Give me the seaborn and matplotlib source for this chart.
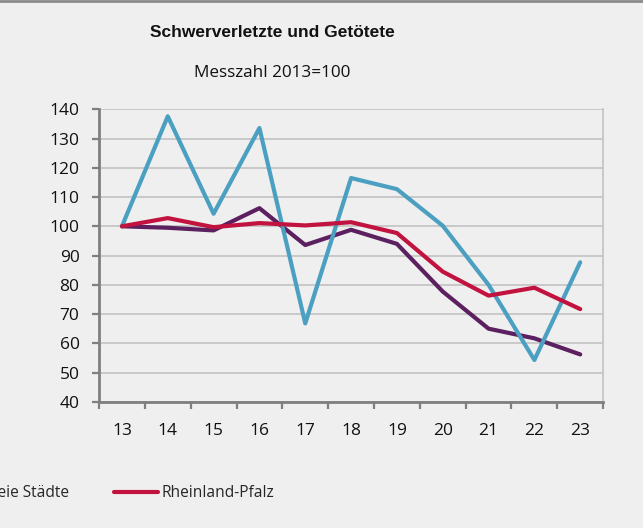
import pandas as pd
import seaborn as sns
import matplotlib.pyplot as plt
from matplotlib.lines import Line2D

# Data (Messzahl 2013=100)
years = ["13", "14", "15", "16", "17", "18", "19", "20", "21", "22", "23"]
kreisfreie_staedte = [100, 137.6, 104.3, 133.6, 66.8, 116.5, 112.7, 100.2, 80, 54.3, 87.7]
landkreise = [100, 99.5, 98.6, 106.2, 93.6, 98.8, 94, 77.7, 65, 61.7, 56.2]
rheinland_pfalz = [100, 102.8, 99.7, 101.1, 100.3, 101.4, 97.7, 84.5, 76.3, 79, 71.7]

series_names = ["Landkreise", "Kreisfreie Städte", "Rheinland-Pfalz"]
series_values = [landkreise, kreisfreie_staedte, rheinland_pfalz]
colors = ["#5C1F5F", "#4BA0C2", "#C2123F"]

rows = []
for name, vals in zip(series_names, series_values):
    for i, v in enumerate(vals):
        rows.append({"pos": i, "year": years[i], "Gebiet": name, "wert": v})
df = pd.DataFrame(rows)

bg = "#EEEFEE"
sns.set_theme(style="white")
plt.rcParams["font.family"] = ["Open Sans", "DejaVu Sans"]

fig = plt.figure(figsize=(6.43, 5.28), dpi=100, facecolor=bg)
ax = fig.add_axes([0.154, 0.239, 0.784, 0.554], facecolor=bg)

sns.lineplot(data=df, x="pos", y="wert", hue="Gebiet", palette=colors,
             hue_order=series_names, linewidth=3.0, ax=ax, legend=False)

ax.set_xlim(-0.5, len(years) - 0.5)
ax.set_ylim(40, 140)
ax.set_yticks(range(40, 141, 10))
ax.set_xticks([i - 0.5 for i in range(len(years) + 1)])
ax.set_xticklabels([])
ax.set_xticks(range(len(years)), minor=True)
ax.set_xticklabels(years, minor=True)
ax.set_xlabel("")
ax.set_ylabel("")

ax.grid(axis="y", color="#C6C6C6", linewidth=1.3)
ax.set_axisbelow(True)
for side in ["left", "bottom"]:
    ax.spines[side].set_color("#7F7F7F")
    ax.spines[side].set_linewidth(2)
ax.spines["top"].set_visible(False)
ax.spines["right"].set_color("#C6C6C6")
ax.spines["right"].set_linewidth(1.3)

ax.tick_params(axis="x", which="major", length=5, width=1.6, color="#7F7F7F", direction="out", bottom=True)
ax.tick_params(axis="x", which="minor", length=0, pad=15, labelsize=12.5, bottom=True)
ax.tick_params(axis="y", length=5, width=1.6, color="#7F7F7F", direction="out", pad=9, labelsize=12.5, left=True)
for lab in ax.get_yticklabels() + ax.get_xticklabels(minor=True):
    lab.set_color("#111111")

fig.text(0.423, 0.939, "Schwerverletzte und Getötete", ha="center", va="center",
         fontsize=12.5, fontweight="bold", family="Liberation Sans", color="#111111")
fig.text(0.423, 0.861, "Messzahl 2013=100", ha="center", va="center",
         fontsize=12.3, color="#111111")

# legend runs off the left edge like in the original crop
handles = [Line2D([0], [0], color=c, linewidth=3.0) for c in colors]
fig.legend(handles, series_names, ncol=3, loc="center left",
           bbox_to_anchor=(-0.44, 0.066), frameon=False, fontsize=11.2,
           handlelength=2.8, handletextpad=0.25, columnspacing=2.9)

fig.add_artist(Line2D([0, 1], [0.998, 0.998], transform=fig.transFigure,
                      color="#8A8A8A", linewidth=2))

fig.savefig("out.png", dpi=100, facecolor=bg)
